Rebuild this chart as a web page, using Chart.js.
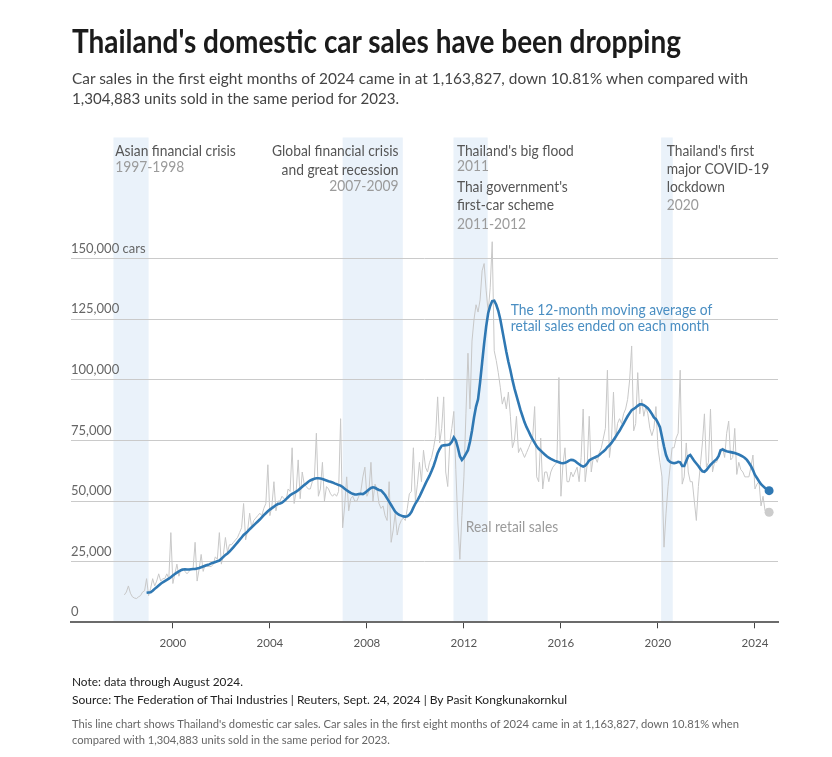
<!DOCTYPE html>
<html>
<head>
<meta charset="utf-8">
<script src="https://cdn.jsdelivr.net/npm/chart.js@4.4.1/dist/chart.umd.min.js"></script>
<style>
  body { margin: 0; background: #fff; width: 832px; height: 757px; overflow: hidden; position: relative; font-family: Lato, sans-serif; }
  #chart { position: absolute; left: 0; top: 0; }
  .t { position: absolute; left: 72px; top: 0; white-space: nowrap; transform-origin: 0 0; line-height: 1.2; }
</style>
</head>
<body>
<canvas id="chart" width="832" height="757"></canvas>

<div class="t" data-base="53.3" data-w="609" style="font:700 32px Lato;color:#1b1b1b"><span>Thailand's domestic car sales have been dropping</span></div>
<div class="t" data-base="84.3" data-w="676" style="font:400 16px Lato;color:#444"><span>Car sales in the first eight months of 2024 came in at 1,163,827, down 10.81% when compared with</span></div>
<div class="t" data-base="103.5" data-w="327" style="font:400 16px Lato;color:#444"><span>1,304,883 units sold in the same period for 2023.</span></div>

<div class="t" data-base="685.7" data-w="171" style="font:400 12px Lato;color:#222"><span>Note: data through August 2024.</span></div>
<div class="t" data-base="704.3" data-w="495" style="font:400 12px Lato;color:#222"><span>Source: The Federation of Thai Industries | Reuters, Sept. 24, 2024 | By Pasit Kongkunakornkul</span></div>
<div class="t" data-base="727.7" data-w="667" style="font:400 11px Lato;color:#666"><span>This line chart shows Thailand's domestic car sales. Car sales in the first eight months of 2024 came in at 1,163,827, down 10.81% when</span></div>
<div class="t" data-base="744" data-w="318" style="font:400 11px Lato;color:#666"><span>compared with 1,304,883 units sold in the same period for 2023.</span></div>

<script>
// monthly domestic retail car sales, thousands of cars, Jan 1998 - Aug 2024
const retailSales = [
  11.3, 12.5, 15.0, 12.0, 10.5, 10.0, 9.8, 10.5, 11.0, 12.5, 13.0, 18.0,     // 1998
  11.0, 14.0, 18.0, 15.0, 17.0, 20.0, 17.0, 18.0, 18.0, 20.0, 18.0, 37.0,    // 1999
  16.0, 20.0, 24.0, 19.0, 22.0, 22.0, 21.0, 20.0, 21.0, 22.0, 22.0, 33.0,    // 2000
  17.0, 22.0, 28.0, 21.0, 24.0, 23.0, 23.0, 23.0, 24.0, 27.0, 26.0, 37.0,    // 2001
  24.0, 28.0, 35.0, 29.0, 32.0, 32.0, 33.0, 34.0, 35.0, 37.0, 39.0, 49.0,    // 2002
  34.0, 38.0, 45.0, 39.0, 42.0, 43.0, 44.0, 45.0, 44.0, 47.0, 49.0, 65.0,    // 2003
  44.0, 48.0, 58.0, 46.0, 50.0, 50.0, 52.0, 51.0, 50.0, 55.0, 54.0, 72.0,    // 2004
  49.0, 54.0, 67.0, 51.0, 62.0, 57.0, 56.0, 55.0, 55.0, 58.0, 59.0, 78.0,    // 2005
  52.0, 55.0, 66.0, 50.0, 56.0, 55.0, 53.0, 52.0, 53.0, 52.0, 54.0, 84.0,    // 2006
  39.0, 48.0, 60.0, 46.0, 51.0, 52.0, 50.0, 50.0, 52.0, 54.0, 60.0, 64.0,    // 2007
  52.0, 54.0, 66.0, 50.0, 57.0, 55.0, 49.0, 47.0, 48.0, 44.0, 42.0, 58.0,    // 2008
  33.0, 38.0, 45.0, 36.0, 40.0, 42.0, 43.0, 42.0, 47.0, 53.0, 54.0, 72.0,    // 2009
  50.0, 57.0, 66.0, 58.0, 71.0, 64.0, 62.0, 66.0, 68.0, 72.0, 77.0, 93.0,    // 2010
  74.0, 80.0, 93.0, 62.0, 56.0, 74.0, 80.0, 87.0, 63.0, 41.0, 26.0, 44.0,    // 2011
  60.0, 86.0, 111.0, 88.0, 116.0, 125.0, 131.0, 128.0, 133.0, 145.0, 148.0, 137.0, // 2012
  128.0, 138.0, 157.0, 112.0, 108.0, 103.0, 97.0, 90.0, 93.0, 88.0, 95.0, 85.0,    // 2013
  72.0, 75.0, 85.0, 70.0, 72.0, 70.0, 68.0, 70.0, 72.0, 74.0, 76.0, 89.0,    // 2014
  60.0, 58.0, 76.0, 55.0, 62.0, 62.0, 58.0, 62.0, 64.0, 65.0, 66.0, 101.0,   // 2015
  52.0, 65.0, 72.0, 58.0, 58.0, 62.0, 60.0, 62.0, 64.0, 58.0, 68.0, 88.0,    // 2016
  58.0, 65.0, 85.0, 62.0, 68.0, 68.0, 66.0, 70.0, 72.0, 76.0, 80.0, 104.0,   // 2017
  68.0, 75.0, 95.0, 75.0, 82.0, 84.0, 82.0, 86.0, 88.0, 92.0, 100.0, 114.0,  // 2018
  79.0, 82.0, 103.0, 86.0, 92.0, 85.0, 89.0, 86.0, 80.0, 77.0, 80.0, 89.0,   // 2019
  72.0, 66.0, 60.0, 31.0, 45.0, 56.0, 64.0, 72.0, 72.0, 76.0, 78.0, 104.0,   // 2020
  57.0, 60.0, 74.0, 62.0, 58.0, 58.0, 50.0, 42.0, 56.0, 65.0, 74.0, 86.0,    // 2021
  64.0, 66.0, 88.0, 62.0, 66.0, 66.0, 68.0, 70.0, 72.0, 68.0, 78.0, 83.0,    // 2022
  67.0, 68.0, 80.0, 61.0, 66.0, 63.0, 62.0, 60.0, 60.0, 60.0, 64.0, 69.0,    // 2023
  55.0, 57.0, 58.0, 48.0, 52.0, 46.0, 47.0, 45.4                              // 2024
];

// 12-month moving average, thousands of cars, Dec 1998 - Aug 2024
const movingAverage = [
  12.2,                                                                       // Dec 1998
  12.3, 12.4, 13.0, 13.8, 14.5, 15.2, 15.9, 16.5, 17.0, 17.5, 18.0, 18.6,    // 1999
  19.3, 19.9, 20.5, 21.0, 21.5, 21.8, 21.9, 21.8, 21.8, 21.9, 22.0, 22.0,    // 2000
  22.2, 22.4, 22.7, 23.0, 23.3, 23.6, 23.9, 24.3, 24.6, 24.9, 25.2, 25.5,    // 2001
  26.2, 27.0, 27.8, 28.4, 29.2, 30.1, 31.0, 32.0, 33.0, 34.0, 35.0, 36.0,    // 2002
  36.7, 37.5, 38.4, 39.2, 40.0, 40.8, 41.6, 42.4, 43.3, 44.2, 45.0, 45.8,    // 2003
  46.5, 47.1, 47.7, 48.4, 48.8, 49.0, 49.4, 50.0, 50.8, 51.6, 52.4, 53.0,    // 2004
  53.4, 53.9, 54.5, 55.2, 55.9, 56.6, 57.3, 58.0, 58.5, 58.9, 59.2, 59.4,    // 2005
  59.4, 59.3, 59.1, 58.8, 58.5, 58.2, 58.0, 57.7, 57.3, 57.0, 56.6, 56.4,    // 2006
  55.8, 55.1, 54.5, 53.9, 53.4, 53.0, 52.7, 52.7, 52.9, 53.0, 52.9, 53.4,    // 2007
  54.1, 54.8, 55.4, 55.7, 55.5, 55.0, 54.6, 54.4, 53.5, 52.5, 51.1, 49.8,    // 2008
  48.4, 47.0, 45.6, 44.9, 44.3, 44.0, 43.7, 43.6, 43.7, 44.3, 45.5, 47.3,    // 2009
  49.0, 50.3, 51.8, 53.6, 55.4, 57.2, 58.9, 60.5, 62.4, 64.5, 67.0, 69.8,    // 2010
  71.5, 72.8, 73.0, 73.1, 73.2, 73.4, 74.5, 76.3, 75.0, 72.0, 68.5, 67.0,    // 2011
  68.0, 69.5, 71.0, 74.5, 79.0, 84.5, 89.0, 92.0, 99.0, 107.0, 115.0, 122.0, // 2012
  127.5, 130.5, 132.5, 132.7, 131.0, 128.5, 125.0, 120.5, 116.0, 111.5, 107.5, 104.0, // 2013
  100.0, 96.5, 93.5, 90.5, 87.5, 85.0, 82.5, 80.5, 78.8, 77.0, 75.5, 74.0,   // 2014
  72.6, 71.6, 70.8, 70.0, 69.2, 68.5, 67.9, 67.4, 67.0, 66.6, 66.3, 66.0,    // 2015
  65.7, 65.6, 65.8, 66.2, 66.7, 67.0, 66.9, 66.5, 65.8, 65.2, 64.6, 64.2,    // 2016
  64.6, 65.5, 66.8, 67.3, 67.7, 68.1, 68.5, 69.0, 69.8, 70.5, 71.2, 72.3,    // 2017
  73.0, 74.0, 75.2, 76.4, 77.8, 79.0, 80.5, 82.0, 83.5, 85.0, 86.3, 87.5,    // 2018
  88.0, 88.6, 89.3, 89.9, 89.9, 89.6, 89.0, 88.3, 87.3, 86.0, 84.5, 83.8,    // 2019
  82.3, 80.5, 76.5, 72.5, 69.0, 67.0, 66.2, 65.8, 65.6, 65.8, 66.2, 66.0,    // 2020
  64.5, 64.5, 66.5, 68.5, 69.0, 67.8, 66.5, 65.5, 64.5, 63.3, 62.3, 62.1,    // 2021
  62.8, 63.9, 64.9, 65.8, 66.6, 67.3, 68.5, 71.0, 71.3, 70.9, 70.6, 70.4,    // 2022
  70.2, 70.0, 69.8, 69.5, 69.2, 68.8, 68.4, 67.8, 67.0, 65.8, 64.5, 62.8,    // 2023
  60.8, 59.5, 58.2, 57.0, 56.2, 55.4, 54.8, 54.3                              // 2024
];

const salesStart = 1998;          // Jan 1998
const averageStart = 1998 + 11 / 12; // Dec 1998

const xTickYears = [2000, 2004, 2008, 2012, 2016, 2020, 2024];
const xTickLabels = ['2000', '2004', '2008', '2012', '2016', '2020', '2024'];
const yTickValues = [0, 25, 50, 75, 100, 125, 150];
const yTickLabels = ['0', '25,000', '50,000', '75,000', '100,000', '125,000', '150,000 cars'];

// shaded periods [from, to] in years
const eventBands = [[1997.55, 1999.0], [2007.0, 2009.48], [2011.57, 2012.98], [2020.13, 2020.61]];
const eventLabels = [
  { x: 1997.62, align: 'left',  lines: [['Asian financial crisis', 156, 0], ['1997-1998', 172, 1]] },
  { x: 2009.30, align: 'right', lines: [['Global financial crisis', 156, 0], ['and great recession', 174.5, 0], ['2007-2009', 190.5, 1]] },
  { x: 2011.71, align: 'left',  lines: [['Thailand\'s big flood', 155.5, 0], ['2011', 171, 1], ['Thai government\'s', 192, 0], ['first-car scheme', 210, 0], ['2011-2012', 228.5, 1]] },
  { x: 2020.36, align: 'left',  lines: [['Thailand\'s first', 155.5, 0], ['major COVID-19', 173.5, 0], ['lockdown', 192, 0], ['2020', 210, 1]] }
];

const blue = '#2f78b3';
const squeeze = 0.92;

function squeezedText(ctx, text, x, y) {
  ctx.save();
  ctx.translate(x, y);
  ctx.scale(squeeze, 1);
  ctx.fillText(text, 0, 0);
  ctx.restore();
}

const annotations = {
  id: 'annotations',
  beforeDraw(chart) {
    const { ctx, chartArea, scales: { x } } = chart;
    ctx.save();
    ctx.fillStyle = '#eaf2fa';
    eventBands.forEach(([a, b]) => {
      const x0 = x.getPixelForValue(a);
      const x1 = x.getPixelForValue(b);
      ctx.fillRect(x0, chartArea.top, x1 - x0, chartArea.bottom - chartArea.top);
    });
    ctx.restore();
  },
  afterDatasetsDraw(chart) {
    const { ctx, scales: { x, y } } = chart;
    ctx.save();
    ctx.font = '15px Lato';
    ctx.textBaseline = 'alphabetic';
    eventLabels.forEach(ev => {
      ctx.textAlign = ev.align;
      const px = x.getPixelForValue(ev.x);
      ev.lines.forEach(([text, base, light]) => {
        ctx.fillStyle = light ? '#9b9b9b' : '#555';
        squeezedText(ctx, text, px, base);
      });
    });
    ctx.textAlign = 'left';
    ctx.fillStyle = '#4a8ec2';
    squeezedText(ctx, 'The 12-month moving average of', x.getPixelForValue(2013.93), y.getPixelForValue(126.8));
    squeezedText(ctx, 'retail sales ended on each month', x.getPixelForValue(2013.93), y.getPixelForValue(120.2));
    ctx.fillStyle = '#9b9b9b';
    squeezedText(ctx, 'Real retail sales', x.getPixelForValue(2012.08), y.getPixelForValue(37.4));
    ctx.restore();
  }
};

new Chart(document.getElementById('chart'), {
  type: 'line',
  data: {
    datasets: [
      {
        label: '12-month moving average',
        data: movingAverage.map((v, i) => ({ x: averageStart + i / 12, y: v })),
        borderColor: blue,
        borderWidth: 2.6,
        pointRadius: ctx => ctx.dataIndex === movingAverage.length - 1 ? 4.5 : 0,
        pointBackgroundColor: blue,
        pointBorderWidth: 0,
        tension: 0
      },
      {
        label: 'Real retail sales',
        data: retailSales.map((v, i) => ({ x: salesStart + i / 12, y: v })),
        borderColor: '#c8c8c8',
        borderWidth: 1,
        pointRadius: ctx => ctx.dataIndex === retailSales.length - 1 ? 4.5 : 0,
        pointBackgroundColor: '#cccccc',
        pointBorderWidth: 0,
        tension: 0
      }
    ]
  },
  options: {
    responsive: false,
    animation: false,
    devicePixelRatio: 1,
    layout: { padding: { left: 71, right: 54, top: 137.5, bottom: 757 - 622.3 - 30 } },
    plugins: { legend: { display: false }, tooltip: { enabled: false } },
    scales: {
      x: {
        type: 'linear',
        min: 1995.8,
        max: 2024.95,
        afterBuildTicks: s => { s.ticks = xTickYears.map(v => ({ value: v })); },
        afterFit: s => { s.height = 30; },
        grid: { drawOnChartArea: false, drawTicks: true, tickLength: 6, color: '#444' },
        border: { display: true, color: '#6b6b6b', width: 2 },
        ticks: {
          font: { family: 'Lato', size: 11.5 },
          color: '#555',
          padding: 8,
          maxRotation: 0,
          autoSkip: false,
          callback: (v, i) => xTickLabels[i]
        }
      },
      y: {
        min: 0,
        max: 200,
        afterBuildTicks: s => { s.ticks = yTickValues.map(v => ({ value: v })); },
        afterFit: s => { s.width = 0; },
        grid: { color: '#cacaca', lineWidth: 1, drawTicks: false },
        border: { display: false },
        ticks: {
          mirror: true,
          padding: 0,
          labelOffset: -10,
          font: { family: 'Lato', size: 13 },
          color: '#666',
          callback: (v, i) => yTickLabels[i]
        }
      }
    }
  },
  plugins: [annotations]
});

// put each text line on its baseline and squeeze it to the reference width
document.querySelectorAll('.t').forEach(el => {
  const span = el.firstElementChild;
  const mark = document.createElement('i');
  mark.style.cssText = 'display:inline-block;width:0;height:0;';
  el.appendChild(mark);
  const base = mark.getBoundingClientRect().bottom - el.getBoundingClientRect().top;
  el.style.top = (el.dataset.base - base) + 'px';
  el.style.transform = 'scaleX(' + (el.dataset.w / span.getBoundingClientRect().width) + ')';
});
</script>
</body>
</html>
